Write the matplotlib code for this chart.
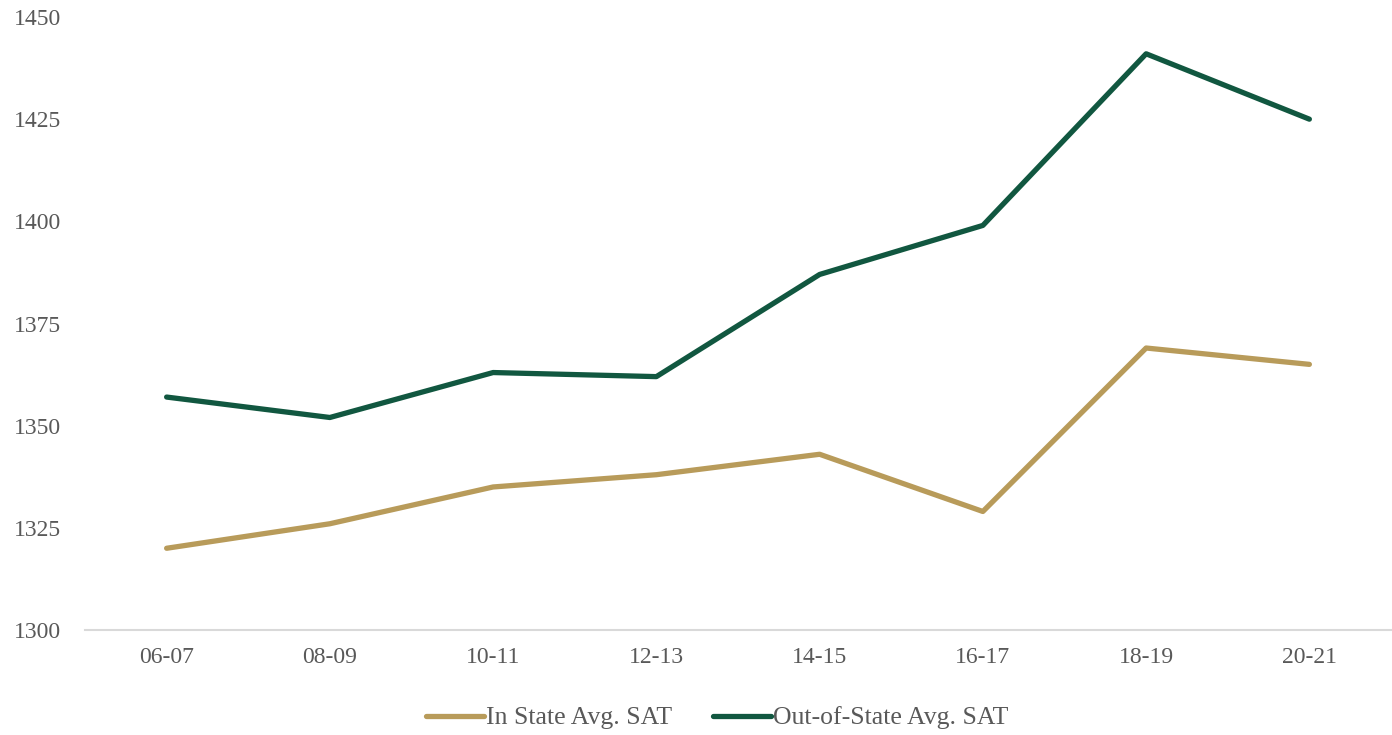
import matplotlib
matplotlib.use("Agg")
import matplotlib.pyplot as plt

years = ["06-07", "08-09", "10-11", "12-13", "14-15", "16-17", "18-19", "20-21"]
in_state = [1320, 1326, 1335, 1338, 1343, 1329, 1369, 1365]
out_state = [1357, 1352, 1363, 1362, 1387, 1399, 1441, 1425]
yticks = [1300, 1325, 1350, 1375, 1400, 1425, 1450]

plt.rcParams['font.family'] = ['Liberation Serif', 'DejaVu Serif']

fig = plt.figure(figsize=(13.92, 7.35), dpi=100)
ax = fig.add_axes([85/1392, 105/735, 1 - 85/1392 - 1/1392, (630-17)/735])

x = list(range(len(years)))
ax.plot(x, in_state, color="#B89B5A", lw=3.8, solid_capstyle="round", solid_joinstyle="round", label="In State Avg. SAT")
ax.plot(x, out_state, color="#115740", lw=3.8, solid_capstyle="round", solid_joinstyle="round", label="Out-of-State Avg. SAT")

ax.set_xlim(-0.5, len(years) - 0.5)
ax.set_ylim(1300, 1450)
ax.set_yticks(yticks)
ax.set_xticks(x)
ax.set_xticklabels(years)
for s in ["top", "right", "left"]:
    ax.spines[s].set_visible(False)
ax.spines["bottom"].set_color("#D9D9D9")
ax.spines["bottom"].set_linewidth(1.5)
ax.tick_params(axis="both", length=0, labelsize=17, colors="#595959")
ax.tick_params(axis="y", pad=17)
ax.tick_params(axis="x", pad=12)

leg = fig.legend(loc="center", bbox_to_anchor=(717/1392, 1 - 718/735), ncol=2, frameon=False,
                 fontsize=18.5, handlelength=2.25, handletextpad=0.08, columnspacing=1.6)
for t in leg.get_texts():
    t.set_color("#595959")

fig.savefig("out.png", dpi=100)
